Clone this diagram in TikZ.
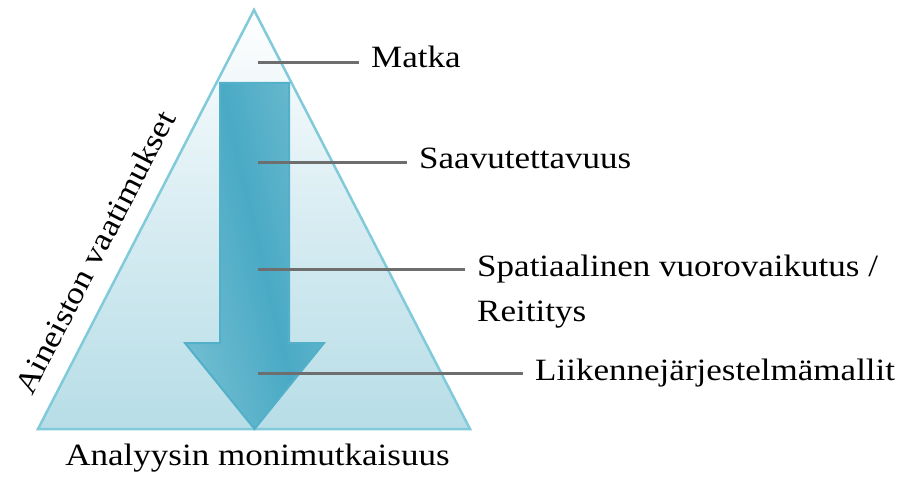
\documentclass[tikz,border=0pt]{standalone}
\usepackage{fontspec}
\newfontfamily\lblfont[FakeStretch=1.13]{Liberation Serif}
\usepackage{tikz}
\usetikzlibrary{positioning}
\definecolor{triedge}{HTML}{80CAD9}
\definecolor{trifill}{HTML}{B7DDE7}
\definecolor{arrdark}{HTML}{4AAAC5}
\definecolor{arrlight}{HTML}{8FCCDA}
\definecolor{arredge}{HTML}{52B0C9}
\definecolor{leadgray}{HTML}{6E6E6E}
\pgfdeclarehorizontalshading{arrowshade}{100bp}{color(0bp)=(arrlight);
  color(31bp)=(arrlight); color(50bp)=(arrdark); color(69bp)=(arrlight);
  color(100bp)=(arrlight)}
\tikzset{
  tri/.style={draw=triedge, line width=2.5pt, line join=miter},
  arr/.style={draw=arredge, line width=2pt, line join=miter},
  lbl/.style={font=\lblfont\fontsize{31}{45}\selectfont, inner xsep=12pt,
    inner ysep=0pt, anchor=base west},
  side/.style={lbl, anchor=center, rotate=62.7},
  lead/.style={draw=leadgray, line width=3pt}
}
\newcommand{\arrowpath}{(220,397) -- (289,397) -- (289,137) -- (324,137)
  -- (254.5,51) -- (185,137) -- (220,137) -- cycle}

\begin{document}
\begin{tikzpicture}[x=1pt, y=1pt]
  \useasboundingbox (0,0) rectangle (902,480);
  % triangle
  \coordinate (apex) at (254,470);
  \coordinate (bl) at (38,51);
  \coordinate (br) at (470,51);
  \shade[top color=white, bottom color=trifill, middle color=trifill!55!white]
    (apex) -- (br) -- (bl) -- cycle;
  \draw[tri] (apex) -- (br) -- (bl) -- cycle;

  % arrow
  \begin{scope}
    \clip \arrowpath;
    \shade[shading=arrowshade, shading angle=13.3]
      (37,20) rectangle (477,460);
  \end{scope}
  \draw[arr] \arrowpath;

  % levels
  \coordinate (c1) at (258,417);
  \coordinate (c2) at (258,317.3);
  \coordinate (c3) at (258,210.7);
  \coordinate (c4) at (258,106.7);
  \node[lbl] (m1) at (359,412.7) {Matka};
  \node[lbl] (m2) at (407,311.3) {Saavutettavuus};
  \node[lbl, align=left] (m3) at (465,158.3) {Spatiaalinen vuorovaikutus /\\Reititys};
  \node[lbl] (m4) at (523,100) {Liikennejärjestelmämallit};
  \draw[lead] (c1) -- (c1 -| m1.west);
  \draw[lead] (c2) -- (c2 -| m2.west);
  \draw[lead] (c3) -- (c3 -| m3.west);
  \draw[lead] (c4) -- (c4 -| m4.west);

  % axes
  \node[side] (req) at (95,227.5) {Aineiston vaatimukset};
  \node[lbl, anchor=base] (cplx) at (257.5,15) {Analyysin monimutkaisuus};
\end{tikzpicture}
\end{document}
